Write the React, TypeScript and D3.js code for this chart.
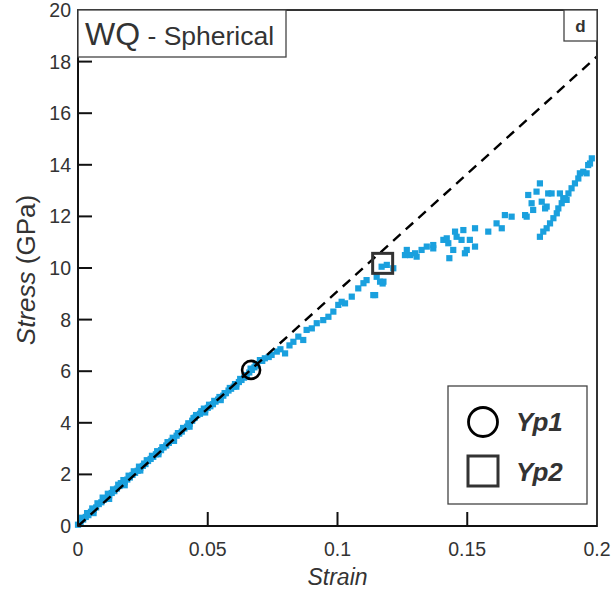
import React from "react";
import * as d3 from "d3";

const xTicks = [0, 0.05, 0.1, 0.15, 0.2];
const xTickLabels = ["0", "0.05", "0.1", "0.15", "0.2"];
const yTicks = [0, 2, 4, 6, 8, 10, 12, 14, 16, 18, 20];

// measured strain / stress points (GPa)
const strain = [
  0.000, 0.001, 0.002, 0.003, 0.004, 0.005, 0.006, 0.007, 0.008, 0.009,
  0.010, 0.011, 0.012, 0.013, 0.014, 0.015, 0.016, 0.0165, 0.017, 0.018,
  0.019, 0.020, 0.021, 0.022, 0.023, 0.024, 0.025, 0.0255, 0.026, 0.027,
  0.028, 0.029, 0.030, 0.031, 0.032, 0.033, 0.034, 0.035, 0.036, 0.037,
  0.038, 0.039, 0.040, 0.041, 0.042, 0.043, 0.044, 0.0445, 0.045, 0.046,
  0.047, 0.0475, 0.048, 0.049, 0.050, 0.051, 0.052, 0.053, 0.054, 0.055,
  0.056, 0.057, 0.058, 0.059, 0.060, 0.061, 0.062, 0.063, 0.064, 0.065,
  0.066, 0.067, 0.068, 0.069, 0.0701, 0.071, 0.072, 0.0735, 0.0746, 0.0766,
  0.078, 0.0798, 0.0815, 0.083, 0.0849, 0.0868, 0.0881, 0.0901, 0.092, 0.0945,
  0.0965, 0.0984, 0.1003, 0.1016, 0.1029, 0.1055, 0.108, 0.11, 0.1112, 0.1138,
  0.1145, 0.1151, 0.1164, 0.1174, 0.1177, 0.117, 0.119, 0.1215, 0.126, 0.1267,
  0.128, 0.1299, 0.1305, 0.1324, 0.1344, 0.1369, 0.1369, 0.1408, 0.1421, 0.1427,
  0.1431, 0.1446, 0.1453, 0.1459, 0.1478, 0.1485, 0.1491, 0.1498, 0.151, 0.153,
  0.153, 0.1581, 0.1613, 0.1633, 0.1645, 0.1671, 0.1723, 0.1729, 0.1735, 0.1748,
  0.1754, 0.1767, 0.178, 0.1787, 0.18, 0.1806, 0.1812, 0.1825, 0.1857, 0.187,
  0.1883, 0.178, 0.1793, 0.1806, 0.1819, 0.1832, 0.1845, 0.1851, 0.1864, 0.1877,
  0.189, 0.1902, 0.1915, 0.1928, 0.1934, 0.1947, 0.196, 0.1966, 0.1973, 0.198,
  0.0015, 0.0035, 0.0055, 0.0075, 0.0095, 0.0115, 0.0135, 0.0155, 0.0175, 0.0195,
  0.0215, 0.0235, 0.0265, 0.0285, 0.0305, 0.0325, 0.0345, 0.0365, 0.0385, 0.0405,
  0.0425, 0.0455, 0.0485, 0.0505, 0.0525, 0.0545, 0.0565, 0.0585, 0.0605, 0.0625,
  0.0645, 0.0665, 0.0685, 0.006, 0.012, 0.018, 0.024, 0.031, 0.037, 0.043,
  0.049, 0.055, 0.061,
];
const stress = [
  0.05, 0.15, 0.25, 0.35, 0.42, 0.55, 0.62, 0.72, 0.85, 0.92,
  1.02, 1.08, 1.18, 1.28, 1.35, 1.45, 1.55, 1.66, 1.62, 1.70,
  1.80, 1.88, 1.98, 2.06, 2.14, 2.25, 2.33, 2.42, 2.40, 2.52,
  2.60, 2.68, 2.78, 2.86, 2.94, 3.05, 3.12, 3.22, 3.30, 3.40,
  3.50, 3.58, 3.66, 3.78, 3.85, 3.96, 4.08, 4.18, 4.20, 4.30,
  4.35, 4.45, 4.42, 4.50, 4.58, 4.64, 4.72, 4.82, 4.90, 4.98,
  5.05, 5.15, 5.25, 5.32, 5.40, 5.50, 5.58, 5.66, 5.75, 5.85,
  5.95, 6.05, 6.15, 6.22, 6.43, 6.40, 6.50, 6.55, 6.63, 6.76,
  6.85, 6.69, 7.00, 7.14, 7.34, 7.21, 7.60, 7.66, 7.86, 7.98,
  8.11, 8.31, 8.57, 8.69, 8.63, 8.89, 9.21, 9.41, 9.53, 8.95,
  8.95, 9.66, 9.47, 9.40, 9.47, 10.05, 10.12, 9.99, 10.50, 10.70,
  10.50, 10.57, 10.44, 10.70, 10.83, 10.76, 10.89, 11.09, 11.15, 10.96,
  10.38, 10.70, 11.41, 11.21, 11.09, 11.47, 10.57, 10.70, 11.09, 10.83,
  11.54, 11.41, 11.73, 11.54, 12.05, 11.99, 12.05, 11.99, 12.83, 12.51,
  12.25, 12.96, 13.28, 12.57, 12.31, 12.38, 12.89, 12.89, 12.89, 12.70,
  12.64, 11.21, 11.41, 11.54, 11.73, 11.93, 12.12, 12.31, 12.51, 12.70,
  12.89, 13.09, 13.28, 13.47, 13.67, 13.73, 13.67, 13.99, 14.05, 14.25,
  0.32, 0.50, 0.68, 0.88, 1.10, 1.25, 1.42, 1.60, 1.78, 1.95,
  2.12, 2.30, 2.55, 2.72, 2.90, 3.05, 3.25, 3.42, 3.60, 3.80,
  3.98, 4.30, 4.55, 4.70, 4.85, 5.00, 5.15, 5.35, 5.50, 5.70,
  5.85, 6.10, 6.28, 0.50, 1.05, 1.58, 2.15, 2.78, 3.30, 3.85,
  4.40, 4.88, 5.40,
];

const dashedFit = [
  [0, 0],
  [0.2, 18.2],
];
const yp1 = [0.0667, 6.05];
const yp2 = [0.1174, 10.18];

const W = 613;
const H = 592;
const L = 78, R = 597, T = 10, B = 526;
const FONT = "'Liberation Sans', Arial, sans-serif";

export default function App() {
  const x = d3.scaleLinear().domain([0, 0.2]).range([L, R]);
  const y = d3.scaleLinear().domain([0, 20]).range([B, T]);
  const line = d3
    .line<number[]>()
    .x((d) => x(d[0]))
    .y((d) => y(d[1]));
  const ms = 6.2;
  const tick = 14;

  return (
    <svg
      width={W}
      height={H}
      style={{ position: "absolute", left: 0, top: 0, background: "#fff" }}
      fontFamily={FONT}
    >
      <rect x={0} y={0} width={W} height={H} fill="#fff" />
      {/* scatter */}
      <g fill="#1AA0DE">
        {strain.map((s, i) => (
          <rect
            key={i}
            x={x(s) - ms / 2}
            y={y(stress[i]) - ms / 2}
            width={ms}
            height={ms}
          />
        ))}
      </g>
      {/* dashed line */}
      <path
        d={line(dashedFit) || ""}
        fill="none"
        stroke="#000"
        strokeWidth={2.4}
        strokeDasharray="10,7"
      />
      {/* frame */}
      <rect x={L} y={T} width={R - L} height={B - T} fill="none" stroke="#333" strokeWidth={2} />
      <line x1={L} y1={T} x2={L} y2={B} stroke="#111" strokeWidth={2} />
      <line x1={L} y1={B} x2={R} y2={B} stroke="#111" strokeWidth={2} />
      {/* ticks */}
      {xTicks.map((t, i) => (
        <g key={"xt" + i}>
          {i > 0 && i < xTicks.length - 1 && (
            <line x1={x(t)} x2={x(t)} y1={B} y2={B - tick} stroke="#111" strokeWidth={2} />
          )}
          <text x={x(t)} y={555.5} textAnchor="middle" fontSize={19.5} fill="#333">
            {xTickLabels[i]}
          </text>
        </g>
      ))}
      {yTicks.map((t, i) => (
        <g key={"yt" + i}>
          {i > 0 && i < yTicks.length - 1 && (
            <line x1={L} x2={L + tick} y1={y(t)} y2={y(t)} stroke="#111" strokeWidth={2} />
          )}
          <text x={71} y={y(t) + 7} textAnchor="end" fontSize={19.5} fill="#333">
            {t}
          </text>
        </g>
      ))}
      {/* axis titles */}
      <text x={(L + R) / 2} y={585} textAnchor="middle" fontSize={23} fontStyle="italic" fill="#333">
        Strain
      </text>
      <text
        transform={`translate(35, 270) rotate(-90)`}
        textAnchor="middle"
        fontSize={26}
        fill="#333"
      >
        <tspan fontStyle="italic">Stress</tspan>
        <tspan> (GPa)</tspan>
      </text>
      {/* yield markers */}
      <circle cx={x(yp1[0])} cy={y(yp1[1])} r={9} fill="none" stroke="#000" strokeWidth={2.6} />
      <rect
        x={x(yp2[0]) - 10}
        y={y(yp2[1]) - 10}
        width={20}
        height={20}
        fill="none"
        stroke="#333"
        strokeWidth={3}
      />
      {/* title box */}
      <rect x={L} y={T} width={208} height={47} fill="#fff" stroke="#444" strokeWidth={1.3} />
      <text x={85} y={45} fill="#333">
        <tspan fontSize={32}>WQ</tspan>
        <tspan fontSize={26.5}> - Spherical</tspan>
      </text>
      {/* panel letter */}
      <rect x={564} y={T} width={R - 564} height={31} fill="#fff" stroke="#444" strokeWidth={1.3} />
      <text x={580.5} y={32} textAnchor="middle" fontSize={17} fontWeight="bold" fill="#333">
        d
      </text>
      {/* legend */}
      <rect x={448} y={386} width={139} height={118} fill="#fff" stroke="#444" strokeWidth={1.3} />
      <circle cx={483} cy={422} r={14.5} fill="none" stroke="#000" strokeWidth={2.8} />
      <rect x={468} y={456} width={30} height={30} fill="none" stroke="#333" strokeWidth={3} />
      <text x={516} y={431} fontSize={26} fontWeight="bold" fontStyle="italic" fill="#333">
        Yp1
      </text>
      <text x={516} y={481} fontSize={26} fontWeight="bold" fontStyle="italic" fill="#333">
        Yp2
      </text>
    </svg>
  );
}
